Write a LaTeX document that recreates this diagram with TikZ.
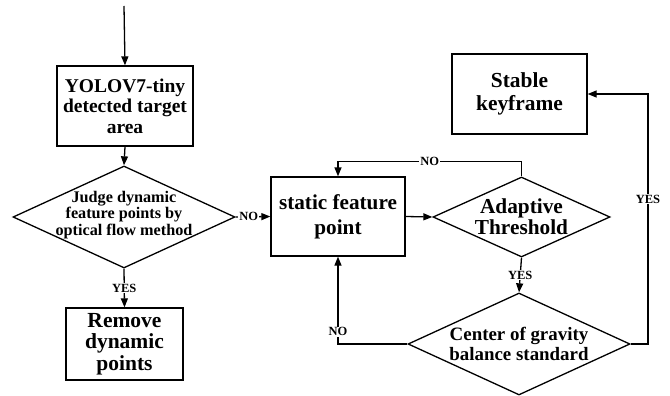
\documentclass[tikz,border=0pt]{standalone}
\usepackage{fontspec}
\setmainfont{Liberation Serif}
\usetikzlibrary{arrows.meta,shapes.geometric}

\tikzset{
  flow/.style={line width=1.3pt, draw=black},
  arr/.style={flow, -{Triangle[length=9pt,width=7pt]}},
  box/.style={flow, rectangle, inner sep=0pt, align=center, font=\bfseries},
  dia/.style={flow, diamond, inner sep=0pt},
  dtext/.style={align=center, font=\bfseries, inner sep=0pt},
  lbl/.style={font=\bfseries\fontsize{12.5}{12.5}\selectfont, fill=white, inner sep=1pt}
}

\begin{document}
\begin{tikzpicture}[x=1pt, y=-1pt]
  \useasboundingbox (0,0) rectangle (670,396);

  % process boxes
  \node[box, minimum width=136pt, minimum height=80pt,
        font=\bfseries\fontsize{19.5}{20.5}\selectfont]
        (yolo) at (125,106) {YOLOV7-tiny\\detected target\\area};
  \node[box, minimum width=117pt, minimum height=72pt,
        font=\bfseries\fontsize{21.5}{21.7}\selectfont]
        (remove) at (124.5,344) {Remove\\dynamic\\points};
  \node[box, minimum width=134pt, minimum height=79pt,
        font=\bfseries\fontsize{21.2}{25}\selectfont]
        (static) at (338,216.5) {static feature\\point};
  \node[box, minimum width=135pt, minimum height=80pt,
        font=\bfseries\fontsize{21.4}{23.5}\selectfont]
        (stable) at (519.5,94) {Stable\\keyframe};

  % decision diamonds
  \node[dia, minimum width=222pt, minimum height=102pt] (judge) at (124,217) {};
  \node[dtext, font=\bfseries\fontsize{16.2}{16.7}\selectfont] (judgetxt) at (124,215)
        {Judge dynamic\\feature points by\\optical flow method};
  \node[dia, minimum width=177pt, minimum height=80pt] (adapt) at (521.5,217) {};
  \node[dtext, font=\bfseries\fontsize{21.3}{21}\selectfont] (adapttxt) at (521.5,217)
        {Adaptive\\Threshold};
  \node[dia, minimum width=222pt, minimum height=102pt] (center) at (519,344) {};
  \node[dtext, font=\bfseries\fontsize{18.9}{20}\selectfont] (centertxt) at (519,344)
        {Center of gravity\\balance standard};

  % entry point and turning point of the YES branch
  \coordinate (start) at (124,6);
  \coordinate (yesturn) at (648,94);

  % connectors
  \draw[arr] (start) -- (yolo.north);
  \draw[arr] (yolo.south) -- (judge.north);
  \draw[arr] (judge.south) -- node[lbl]{YES} (remove.north);
  \draw[arr] (judge.east) -- node[lbl, pos=0.38]{NO} (static.west);
  \draw[arr] (static.east) -- (adapt.west);
  \draw[arr] (adapt.north) -- ++(0,-15) -| node[lbl, pos=0.25]{NO} (static.north);
  \draw[arr] (adapt.south) -- node[lbl]{YES} (center.north);
  \draw[arr] (center.west) -| node[lbl, pos=0.57]{NO} (static.south);
  \draw[arr] (center.east) -| node[lbl, pos=0.79]{YES} (yesturn) -- (stable.east);
\end{tikzpicture}
\end{document}
